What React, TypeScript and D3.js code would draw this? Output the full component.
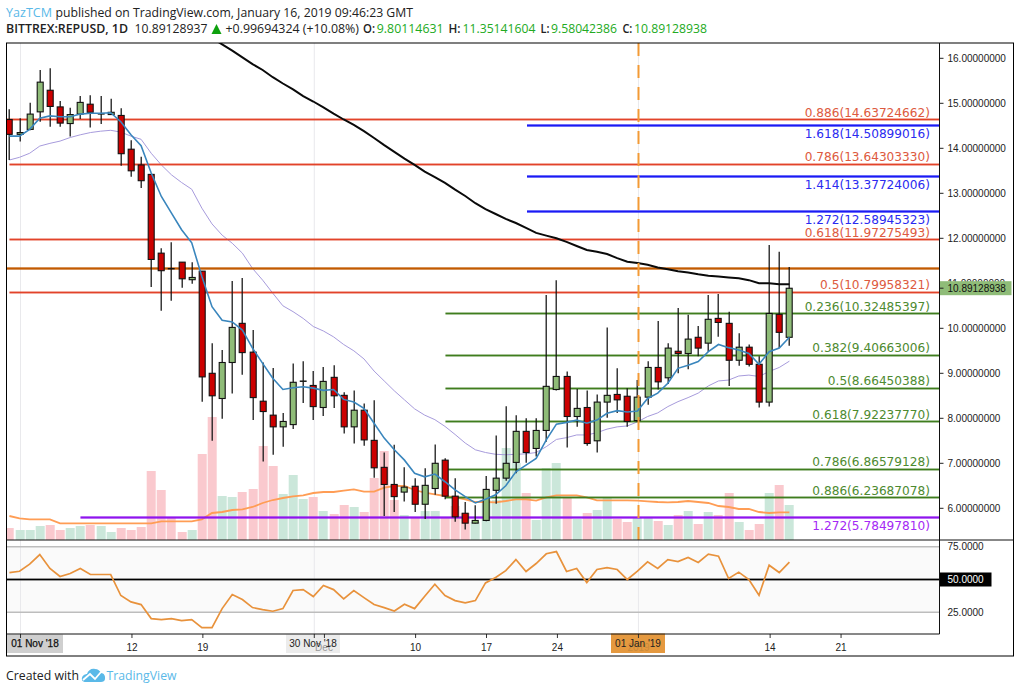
import React, { useEffect } from "react";
import * as d3 from "d3";

// Daily OHLC, 31 Oct 2018 - 16 Jan 2019
const opens = [14.64,14.31,14.42,14.81,15.29,14.92,14.55,14.76,14.98,14.76,14.75,14.73,13.98,13.63,13.42,11.67,11.33,11.47,11.08,11.27,9.0,8.44,9.24,10.11,9.47,8.38,8.07,7.81,7.86,8.82,8.73,8.24,8.91,8.51,7.81,8.18,7.51,6.91,6.53,6.36,6.49,6.09,6.44,7.07,6.27,5.89,5.67,5.73,6.4,6.67,7.02,7.71,7.33,7.73,8.64,8.93,8.04,8.24,7.5,8.36,8.53,8.49,7.95,8.47,9.13,8.9,9.49,9.44,9.8,9.67,10.22,10.11,9.29,9.58,9.2,8.36,10.31,9.8];
const highs = [14.87,14.67,15.01,15.74,15.78,15.05,14.9,15.16,15.18,15.16,15.1,14.89,14.18,13.81,13.42,11.78,11.91,11.47,11.47,11.27,9.67,9.52,11.05,11.12,9.96,9.24,9.12,8.12,9.22,9.27,9.05,9.14,9.18,8.58,8.62,8.33,8.4,7.24,7.41,6.91,6.67,6.89,7.42,7.11,6.67,6.14,6.07,6.72,7.62,8.27,8.07,8.0,8.0,10.74,11.07,9.04,8.65,8.62,8.53,10.02,9.11,8.67,8.85,9.27,10.16,9.67,10.45,10.3,10.05,10.74,10.76,10.37,9.89,9.64,9.38,11.85,11.7,11.36];
const lows = [13.74,14.15,14.4,14.59,14.48,14.48,14.26,14.65,14.46,14.54,14.75,13.61,13.37,13.12,10.92,10.39,10.61,10.9,10.99,8.37,7.5,7.99,8.55,8.97,7.96,7.04,7.19,7.37,7.76,8.34,7.96,8.05,8.23,7.66,7.44,7.39,6.68,5.83,5.92,6.15,5.92,5.76,6.3,6.2,5.7,5.53,5.66,5.71,6.1,6.61,6.78,7.01,7.15,7.48,8.62,7.35,7.81,7.39,7.24,8.01,8.12,7.81,7.92,8.3,8.64,8.76,9.0,9.09,9.38,9.48,9.81,8.72,9.17,9.15,8.24,8.26,9.56,9.61];
const closes = [14.31,14.35,14.76,15.47,14.93,14.56,14.75,15.02,14.8,14.77,14.8,13.88,13.5,13.28,11.53,11.28,11.32,11.1,11.13,8.92,8.5,9.24,10.02,9.46,8.46,8.15,7.81,7.93,8.8,8.83,8.26,8.82,8.5,7.81,8.18,7.52,6.9,6.53,6.26,6.47,6.09,6.51,7.0,6.27,5.81,5.67,5.73,6.42,6.67,7.0,7.71,7.24,7.73,8.71,8.93,8.04,8.22,7.44,8.36,8.51,8.41,7.93,8.47,9.13,8.81,9.56,9.44,9.76,9.56,10.2,10.13,9.29,9.58,9.2,8.36,10.33,9.91,10.89];

const ema = [14.27,14.27,14.42,14.67,14.72,14.7,14.7,14.76,14.78,14.78,14.79,14.59,14.3,14.06,13.45,12.93,12.56,12.19,11.9,11.15,10.48,10.18,10.14,9.96,9.56,9.22,8.89,8.64,8.68,8.7,8.67,8.62,8.64,8.42,8.36,8.22,7.89,7.56,7.3,7.07,6.78,6.7,6.76,6.59,6.41,6.26,6.12,6.2,6.3,6.5,6.81,6.96,7.11,7.52,7.87,7.91,7.96,7.89,7.96,8.11,8.17,8.14,8.16,8.44,8.56,8.78,9.11,9.18,9.26,9.48,9.64,9.57,9.52,9.44,9.2,9.48,9.56,9.8];
const slowMa = [13.74,13.8,13.89,14.05,14.11,14.16,14.24,14.3,14.35,14.38,14.4,14.36,14.27,14.2,13.89,13.63,13.41,13.24,13.09,12.67,12.32,12.07,11.89,11.67,11.33,11.07,10.78,10.5,10.37,10.22,10.04,9.94,9.81,9.64,9.5,9.32,9.05,8.83,8.61,8.41,8.21,8.07,7.97,7.82,7.64,7.45,7.3,7.24,7.2,7.19,7.2,7.21,7.24,7.37,7.53,7.57,7.63,7.63,7.68,7.76,7.81,7.83,7.92,8.04,8.12,8.26,8.37,8.46,8.56,8.72,8.83,8.85,8.94,8.96,8.93,9.04,9.13,9.27];
// 200-day average: enters the pane at candle 20
const ma200Start = 20;
const ma200 = [16.45,16.31,16.17,16.02,15.87,15.74,15.58,15.44,15.31,15.16,15.04,14.91,14.77,14.64,14.52,14.38,14.23,14.07,13.92,13.77,13.63,13.48,13.36,13.23,13.08,12.94,12.78,12.65,12.54,12.43,12.34,12.23,12.12,12.06,12.0,11.92,11.83,11.74,11.7,11.65,11.56,11.48,11.45,11.41,11.35,11.31,11.27,11.24,11.2,11.17,11.15,11.13,11.11,11.07,11.0,11.0,10.98,10.98];

const volumes = [12,10,10,14,15,10,12,14,15,14,8,12,10,13,69,50,22,8,10,86,123,44,43,48,51,94,74,46,65,41,43,29,26,35,33,28,62,89,40,25,23,29,29,22,34,27,18,40,40,92,77,47,20,72,77,43,21,27,30,42,21,18,22,22,19,15,25,29,16,28,25,47,18,10,16,47,55,35];
const volumeMa = [24,21.7,20.7,20.7,20.7,16.7,16.7,16.7,16.7,16.7,16.7,16.7,16.7,16.7,16.7,18.7,18.7,18.7,18.7,20.7,27,28,30,30.7,33,37,40,42,43.7,44.7,47,48,48,49.3,50.7,48.3,48.3,52.3,54,54,50,47.3,45.7,44,42.7,40.7,38,38,37.7,39,40.7,40.7,39.3,42.7,44.7,44.7,44.7,42.7,39.7,39.7,39.7,39.7,39.3,38.7,38,37.7,38,39,38,37,34,33,31,31,28,27,27.7,27.7];
const rsi = [55.3,56.3,61.7,69,58.4,52.3,54.6,58.4,53.8,53.8,53.8,37.8,32.9,30.9,20.2,19.4,20.2,18.7,19.4,13.3,13.3,27.8,38.5,34.7,28.6,27.1,25.8,27.8,41.6,42.3,37,45.4,42.3,35.3,41.6,36.2,30.9,28.6,26,31.1,27.8,37.3,46.4,37.8,33.9,32.2,33.9,47.4,51.5,56.8,65.2,56.1,62.2,69.6,71.3,56.1,58.4,47.7,57.6,59.1,57.6,50,56.3,63.5,58.4,65.2,63.7,66.8,63,69.3,67.8,50.7,55.6,50,38,60.9,55.3,63.2];

const priceTicks = [6,7,8,9,10,11,12,13,14,15,16];
const rsiTicks = [75,25];
const timeTicks = [{ day: 12, label: "12" },{ day: 19, label: "19" },{ day: 40, label: "10" },{ day: 47, label: "17" },{ day: 54, label: "24" },{ day: 75, label: "14" },{ day: 82, label: "21" }];
const gridDays = [1, 30, 62];
const redLevels = [14.63724662,13.64303330,11.97275493,10.79958321];
const redRatios = ["0.886","0.786","0.618","0.5"];
const blueLevels = [14.50899016,13.37724006,12.58945323];
const blueRatios = ["1.618","1.414","1.272"];
const greenLevels = [10.32485397,9.40663006,8.66450388,7.92237770,6.86579128,6.23687078];
const greenRatios = ["0.236","0.382","0.5","0.618","0.786","0.886"];
const purpleLevel = 5.78497810;
const purpleRatio = "1.272";
const resistance = 11.33;
const lastPrice = 10.89128938;

const W = 1020, H = 693;
const left = 6.5, right = 1013.5, axisX = 939.5, top = 43, priceBottom = 540, rsiBottom = 634, bottom = 656;
const y = d3.scaleLinear().domain([6, 16]).range([508.3, 58.3]);
const x = d3.scaleLinear().domain([0, 77]).range([9.4, 789.4]);
const cx = (i: number) => Math.round(x(i)) + 0.2;
const tickX = (d: number) => x(d) + 1;
const yVol = d3.scaleLinear().domain([0, 123]).range([priceBottom, 417]);
const yRsi = d3.scaleLinear().domain([25, 75]).range([612.3, 546.7]);

const pricePath = d3.line<number>().x((_, i) => x(i)).y((d) => y(d));
const maPath = d3.line<number>().x((_, i) => x(i + ma200Start)).y((d) => y(d));
const volMaPath = d3.line<number>().x((_, i) => x(i)).y((d) => yVol(d));
const rsiPath = d3.line<number>().x((_, i) => x(i)).y((d) => yRsi(d));

const LABEL = "'DejaVu Sans', sans-serif";
const AXIS = "'Liberation Sans', Arial, sans-serif";
const HEAD = "'Open Sans', sans-serif";
const CLR = { red: "#e2432a", redT: "#dd5a40", blue: "#1a1af5", blueT: "#2a2af0", green: "#3f7d1e", greenT: "#4d8a30", purple: "#8f14ee", purpleT: "#a428f5", up: "#8fbc78", down: "#cc0000", volUp: "#cbe7da", volDown: "#fac9ce", tv: "#5ab9e8", quote: "#22aa22" };

function Level({ v, x0, color, halo = 0.25, sw = 1.5 }: any) {
  const yy = Math.floor(y(v)) + 0.5;
  return (
    <g>
      <line x1={x0} x2={axisX} y1={yy} y2={yy} stroke={color} strokeWidth={3} opacity={halo} />
      <line x1={x0} x2={axisX} y1={yy} y2={yy} stroke={color} strokeWidth={sw} />
    </g>
  );
}
function FibLabel({ v, ratio, color, below = false }: any) {
  return (
    <text x={930} y={y(v) + (below ? 12.4 : -3)} textAnchor="end" fontFamily={LABEL} fontSize={12.15} fill={color}>
      {ratio}({v.toFixed(8)})
    </text>
  );
}
function Head({ x: xx, y: yy, w, bold = false, fill = "#222", children }: any) {
  return (
    <text x={xx} y={yy} textLength={w} lengthAdjust="spacingAndGlyphs" fontFamily={HEAD} fontSize={13} fontWeight={bold ? 600 : 400} fill={fill}>
      {children}
    </text>
  );
}

export default function App() {
  useEffect(() => { document.body.style.margin = "0"; }, []);
  const volWidth = 9;
  return (
    <svg width={W} height={H} viewBox={`0 0 ${W} ${H}`} style={{ display: "block", background: "#fff" }}>
      <defs>
        <clipPath id="pricePane"><rect x={left} y={top} width={axisX - left} height={priceBottom - top} /></clipPath>
        <clipPath id="rsiPane"><rect x={left} y={priceBottom} width={axisX - left} height={rsiBottom - priceBottom} /></clipPath>
      </defs>

      {/* header */}
      <Head x={6} y={17} w={46} fill={CLR.tv}>YazTCM</Head>
      <Head x={55.5} y={17} w={357.5}>published on TradingView.com, January 16, 2019 09:46:23 GMT</Head>
      <Head x={6} y={33} w={122} bold>BITTREX:REPUSD, 1D</Head>
      <Head x={134.5} y={33} w={73}>10.89128937</Head>
      <path d={`M${211.5},${34} L${216.5},${24} L${221.5},${34} Z`} fill="#0ea10e" />
      <Head x={225.5} y={33} w={133.5}>+0.99694324 (+10.08%)</Head>
      <Head x={363} y={33} w={12} bold>O:</Head>
      <Head x={376.8} y={33} w={66.8} fill={CLR.quote}>9.80114631</Head>
      <Head x={448.4} y={33} w={12} bold>H:</Head>
      <Head x={462.5} y={33} w={73} fill={CLR.quote}>11.35141604</Head>
      <Head x={540.6} y={33} w={9} bold>L:</Head>
      <Head x={551} y={33} w={66} fill={CLR.quote}>9.58042386</Head>
      <Head x={622.4} y={33} w={10} bold>C:</Head>
      <Head x={634} y={33} w={73} fill={CLR.quote}>10.89128938</Head>

      {/* RSI pane background */}
      <rect x={left} y={yRsi(75)} width={axisX - left} height={yRsi(25) - yRsi(75)} fill="#fafafa" />

      {/* grid */}
      {gridDays.map((d) => (
        <line key={d} x1={tickX(d)} x2={tickX(d)} y1={top} y2={rsiBottom} stroke="#e9e9ec" strokeWidth={1} />
      ))}

      {/* price pane */}
      <g clipPath="url(#pricePane)">
        {volumes.map((v, i) => (
          <rect key={i} x={cx(i) - volWidth / 2} y={yVol(v)} width={volWidth} height={priceBottom - yVol(v)} fill={closes[i] >= opens[i] ? CLR.volUp : CLR.volDown} />
        ))}
        <path d={volMaPath(volumeMa) || ""} fill="none" stroke="#ff9d55" strokeWidth={1.8} />
        <path d={pricePath(slowMa) || ""} fill="none" stroke="#a79bdc" strokeWidth={1} />

        <Level v={redLevels[0]} x0={7} color={CLR.red} />
        <Level v={redLevels[1]} x0={9.5} color={CLR.red} />
        <Level v={redLevels[2]} x0={9.5} color={CLR.red} />
        <Level v={redLevels[3]} x0={9.5} color={CLR.red} />
        <Level v={resistance} x0={7} color="#c25a00" sw={2} halo={0.3} />
        {blueLevels.map((v) => <Level key={v} v={v} x0={527} color={CLR.blue} sw={2} />)}
        {greenLevels.map((v) => <Level key={v} v={v} x0={445.5} color={CLR.green} />)}
        <Level v={purpleLevel} x0={80.5} color={CLR.purple} sw={2} />

        {opens.map((o, i) => {
          const c = closes[i];
          const t = y(Math.max(o, c));
          const b = y(Math.min(o, c));
          const X = cx(i);
          const flat = b - t < 1.2;
          return (
            <g key={i}>
              <line x1={X} x2={X} y1={y(highs[i])} y2={y(lows[i])} stroke="#111" strokeWidth={1.25} />
              <rect x={X - 3} y={t} width={6} height={Math.max(b - t, 0.5)} fill={c >= o ? CLR.up : CLR.down} stroke="#111" strokeWidth={flat ? 0.9 : 1.1} />
            </g>
          );
        })}

        <path d={pricePath(ema) || ""} fill="none" stroke="#3a86bd" strokeWidth={1.6} />
        <path d={maPath(ma200) || ""} fill="none" stroke="#0a0a0a" strokeWidth={2} />
        <line x1={638.5} x2={638.5} y1={top} y2={priceBottom} stroke="#f39a35" strokeWidth={2} strokeDasharray="13 9" />
      </g>

      {/* fib labels */}
      {redLevels.map((v, i) => <FibLabel key={v} v={v} ratio={redRatios[i]} color={CLR.redT} />)}
      {blueLevels.map((v, i) => <FibLabel key={v} v={v} ratio={blueRatios[i]} color={CLR.blueT} below />)}
      {greenLevels.map((v, i) => <FibLabel key={v} v={v} ratio={greenRatios[i]} color={CLR.greenT} />)}
      <FibLabel v={purpleLevel} ratio={purpleRatio} color={CLR.purpleT} below />

      {/* RSI pane */}
      <g clipPath="url(#rsiPane)">
        {rsiTicks.map((t) => (
          <line key={t} x1={left} x2={axisX} y1={yRsi(t)} y2={yRsi(t)} stroke="#bdbdbd" strokeWidth={1.6} />
        ))}
        <line x1={left} x2={axisX} y1={yRsi(50)} y2={yRsi(50)} stroke="#999" strokeWidth={3} opacity={0.5} />
        <line x1={left} x2={axisX} y1={yRsi(50)} y2={yRsi(50)} stroke="#000" strokeWidth={1.4} />
        <path d={rsiPath(rsi) || ""} fill="none" stroke="#e8923c" strokeWidth={1.7} />
      </g>

      {/* price axis */}
      {priceTicks.map((t) => (
        <g key={t}>
          <line x1={axisX} x2={axisX + 4} y1={y(t)} y2={y(t)} stroke="#222" />
          <text x={947.5} y={y(t) + 3.7} fontFamily={AXIS} fontSize={10} fill="#222">{t.toFixed(8)}</text>
        </g>
      ))}
      <rect x={axisX} y={y(lastPrice) - 7} width={72} height={14} fill={CLR.up} />
      <line x1={axisX} x2={axisX + 4} y1={y(lastPrice)} y2={y(lastPrice)} stroke="#222" />
      <text x={947.5} y={y(lastPrice) + 3.7} fontFamily={AXIS} fontSize={10} fill="#111">{lastPrice.toFixed(8)}</text>

      {/* RSI axis */}
      {rsiTicks.map((t) => (
        <text key={t} x={947.5} y={yRsi(t) + 3.7} fontFamily={AXIS} fontSize={10} fill="#222">{t.toFixed(4)}</text>
      ))}
      <rect x={axisX} y={yRsi(50) - 7} width={52} height={14} fill="#000" />
      <text x={947.5} y={yRsi(50) + 3.7} fontFamily={AXIS} fontSize={10} fill="#fff">{(50).toFixed(4)}</text>

      {/* time axis */}
      <rect x={7} y={rsiBottom + 0.5} width={56} height={18.5} fill="#cfcfcf" />
      <rect x={286} y={rsiBottom + 0.5} width={54} height={18.5} fill="#ececec" />
      <text x={324} y={651} textAnchor="middle" fontFamily={AXIS} fontSize={10} fill="#999">Dec</text>
      <rect x={611} y={rsiBottom - 0.5} width={54} height={19.5} fill="#e5993f" />
      <text x={638.5} y={651} textAnchor="middle" fontFamily={AXIS} fontSize={10} fill="#c98a3c">2019</text>
      {[1, 12, 19, 30, 31, 40, 47, 54, 62, 75, 82].map((d) => (
        <line key={d} x1={tickX(d)} x2={tickX(d)} y1={rsiBottom} y2={rsiBottom + 4} stroke="#333" />
      ))}
      {timeTicks.map((t) => (
        <text key={t.label} x={tickX(t.day)} y={650.5} textAnchor="middle" fontFamily={AXIS} fontSize={10} fill="#222">{t.label}</text>
      ))}
      <text x={35} y={647} textAnchor="middle" fontFamily={AXIS} fontSize={10} fill="#111" stroke="#111" strokeWidth={0.25}>01 Nov '18</text>
      <text x={313} y={647} textAnchor="middle" fontFamily={AXIS} fontSize={10} fill="#222">30 Nov '18</text>
      <text x={638} y={647} textAnchor="middle" fontFamily={AXIS} fontSize={10} fill="#222">01 Jan '19</text>

      {/* frame */}
      <rect x={left} y={top} width={right - left} height={bottom - top} fill="none" stroke="#000" strokeWidth={1} />
      <line x1={axisX} x2={axisX} y1={top} y2={rsiBottom} stroke="#111" />
      <line x1={left} x2={axisX + 74} y1={priceBottom} y2={priceBottom} stroke="#111" />
      <line x1={left} x2={axisX} y1={rsiBottom} y2={rsiBottom} stroke="#111" />

      {/* footer */}
      <Head x={6} y={680} w={73}>Created with</Head>
      <path d="M82,680 C81,676 85,674 87,674 C88,670 92,668 95,669 C98,669 100,671 101,673 C104,673 105.5,676 105,679 C105,681 103,682 101,682 L86,682 C84,682 82.5,681.5 82,680 Z" fill={CLR.tv} />
      <path d="M83,680 L90,674 L95,679 L101,672" fill="none" stroke="#fff" strokeWidth={1.8} />
      <Head x={106.5} y={680} w={70} fill={CLR.tv}>TradingView</Head>
    </svg>
  );
}
